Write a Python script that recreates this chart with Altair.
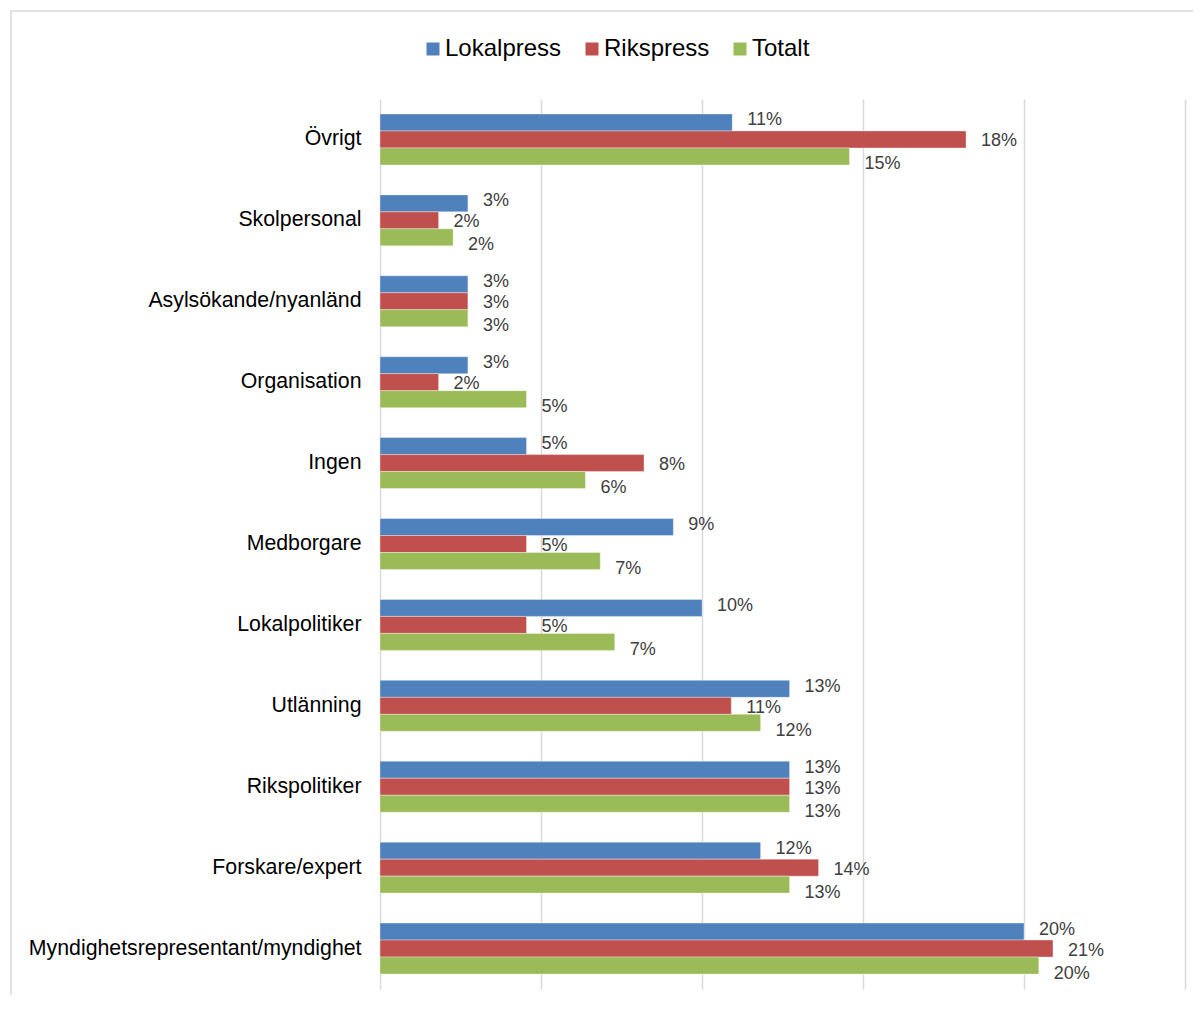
import altair as alt
import pandas as pd

# ---- data ----
categories = [
    "Övrigt",
    "Skolpersonal",
    "Asylsökande/nyanländ",
    "Organisation",
    "Ingen",
    "Medborgare",
    "Lokalpolitiker",
    "Utlänning",
    "Rikspolitiker",
    "Forskare/expert",
    "Myndighetsrepresentant/myndighet",
]
series = ["Lokalpress", "Rikspress", "Totalt"]
lokalpress = [10.94, 2.73, 2.73, 2.73, 4.55, 9.11, 10.0, 12.72, 12.72, 11.82, 20.0]
rikspress = [18.2, 1.82, 2.73, 1.82, 8.2, 4.55, 4.55, 10.91, 12.72, 13.62, 20.9]
totalt = [14.58, 2.27, 2.73, 4.55, 6.38, 6.84, 7.29, 11.82, 12.72, 12.72, 20.46]
grid_values = [0, 5, 10, 15, 20, 25]

# ---- styles ----
colors = ["#4F81BD", "#C0504D", "#9BBB59"]
label_dy = [-2, 2, 8]
FONT = "Liberation Sans"

rows = []
for s, vals in zip(series, [lokalpress, rikspress, totalt]):
    for c, v in zip(categories, vals):
        rows.append({"Kategori": c, "Serie": s, "Andel": v, "Etikett": f"{round(v)}%"})
df = pd.DataFrame(rows)

x_enc = alt.X(
    "Andel:Q",
    scale=alt.Scale(domain=[0, 25], nice=False, zero=True),
    axis=alt.Axis(
        title=None, labels=False, ticks=False, domain=False, grid=True,
        values=grid_values, gridColor="#d9d9d9", gridWidth=1.5,
    ),
)
y_enc = alt.Y(
    "Kategori:N",
    sort=categories,
    scale=alt.Scale(paddingInner=0.37, paddingOuter=0.185),
    axis=alt.Axis(
        title=None, domain=False, ticks=False, grid=False, labelPadding=19,
        labelFontSize=21.3, labelFont=FONT, labelColor="#000000", labelLimit=500,
    ),
)
yoff = alt.YOffset("Serie:N", sort=series, scale=alt.Scale(paddingInner=0, paddingOuter=0))
color_enc = alt.Color(
    "Serie:N",
    sort=series,
    scale=alt.Scale(domain=series, range=colors),
    legend=alt.Legend(
        title=None, orient="none", legendX=41, legendY=-62, direction="horizontal",
        symbolType="square", symbolSize=169, symbolStrokeWidth=0, symbolOpacity=1,
        labelFontSize=24, labelFont=FONT, labelColor="#000000", labelOffset=0,
        columnPadding=18, padding=0,
    ),
)

frame = alt.Chart(pd.DataFrame({"f": [0]})).mark_rect(
    fill="transparent", stroke="#d9d9d9", strokeWidth=1.5
).encode(x=alt.value(-369), x2=alt.value(900), y=alt.value(-88), y2=alt.value(1000))

bars = alt.Chart(df).mark_bar(stroke="white", strokeOpacity=0.35, strokeWidth=1).encode(
    x=x_enc, y=y_enc, yOffset=yoff, color=color_enc
)

texts = [
    alt.Chart(df)
    .transform_filter(alt.datum.Serie == s)
    .mark_text(align="left", baseline="middle", dx=15, dy=d, fontSize=18, font=FONT, color="#404040")
    .encode(x=x_enc, y=y_enc, yOffset=yoff, text="Etikett:N")
    for s, d in zip(series, label_dy)
]

chart = (
    alt.layer(frame, bars, *texts)
    .properties(
        width=805,
        height=890,
        autosize=alt.AutoSizeParams(type="none"),
        padding={"left": 372, "top": 91, "right": 8, "bottom": 6},
        background="white",
    )
    .configure_view(stroke=None)
)

chart.save("out.html", embed_options={"renderer": "svg", "actions": False})
